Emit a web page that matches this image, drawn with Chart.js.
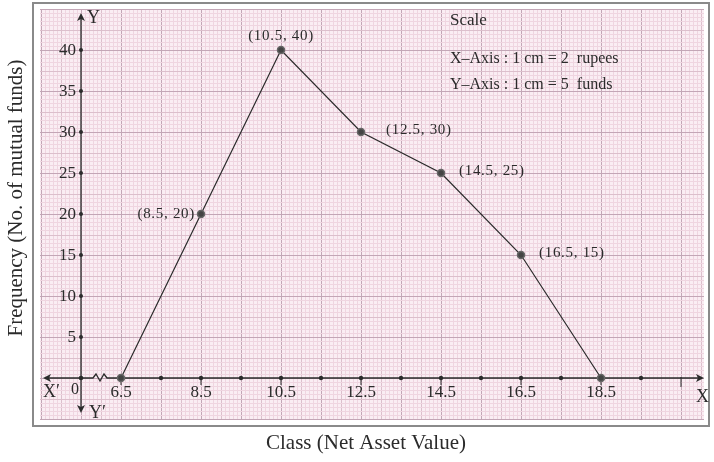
<!DOCTYPE html>
<html>
<head>
<meta charset="utf-8">
<script src="https://cdn.jsdelivr.net/npm/chart.js@4"></script>
<style>
  html, body { margin: 0; padding: 0; background: #fff; }
  #wrap { width: 714px; height: 462px; }
</style>
</head>
<body>
<div id="wrap"><canvas id="chart" width="714" height="462"></canvas></div>
<script>
// class marks and their frequencies (frequency polygon)
var classMarks = [6.5, 8.5, 10.5, 12.5, 14.5, 16.5, 18.5];
var frequencies = [0, 20, 40, 30, 25, 15, 0];
var xTickLabels = ['6.5', '8.5', '10.5', '12.5', '14.5', '16.5', '18.5'];
var xMinorDots = [7.5, 9.5, 11.5, 13.5, 15.5, 17.5, 19.5];
var yTickLabels = [5, 10, 15, 20, 25, 30, 35, 40];
var pointLabels = ['', '(8.5, 20)', '(10.5, 40)', '(12.5, 30)', '(14.5, 25)', '(16.5, 15)', ''];
var scaleNotes = ['Scale', 'X\u2013Axis : 1 cm = 2  rupees', 'Y\u2013Axis : 1 cm = 5  funds'];

var ORIGIN_X = 5.5; // where the broken x axis starts
var SERIF = '"Liberation Serif", "DejaVu Serif", serif';
var INK = '#2b2b2b';

function arrow(ctx, x, y, dir) {
    var s = 6;
    ctx.beginPath();
    if (dir === 'up') { ctx.moveTo(x, y); ctx.lineTo(x - 4, y + s + 2); ctx.lineTo(x, y + s); ctx.lineTo(x + 4, y + s + 2); }
    if (dir === 'down') { ctx.moveTo(x, y); ctx.lineTo(x - 4, y - s - 2); ctx.lineTo(x, y - s); ctx.lineTo(x + 4, y - s - 2); }
    if (dir === 'left') { ctx.moveTo(x, y); ctx.lineTo(x + s + 2, y - 4); ctx.lineTo(x + s, y); ctx.lineTo(x + s + 2, y + 4); }
    if (dir === 'right') { ctx.moveTo(x, y); ctx.lineTo(x - s - 2, y - 4); ctx.lineTo(x - s, y); ctx.lineTo(x - s - 2, y + 4); }
    ctx.closePath();
    ctx.fill();
}

var graphPaper = {
    id: 'graphPaper',
    beforeDatasetsDraw: function (chart) {
        var ctx = chart.ctx, a = chart.chartArea;
        var xs = chart.scales.x, ys = chart.scales.y;
        ctx.save();
        // outer frame
        ctx.strokeStyle = '#8a8a8a';
        ctx.lineWidth = 2;
        ctx.strokeRect(33, 3, 676, 423);
        ctx.fillStyle = '#faedf3';
        ctx.fillRect(a.left, a.top, a.right - a.left, a.bottom - a.top);

        // vertical lines: fine every 0.1, medium every 0.5 offset, strong on .5 values
        ctx.lineWidth = 1;
        for (var i = Math.ceil(xs.min * 10); i <= xs.max * 10; i++) {
            var v = i / 10;
            var px = Math.round(xs.getPixelForValue(v)) + 0.5;
            var k = ((i - 5) % 10 + 10) % 10;
            ctx.strokeStyle = k === 0 ? '#c3a6b6' : (k === 5 ? '#dcbfcc' : '#efd5e0');
            ctx.beginPath(); ctx.moveTo(px, a.top); ctx.lineTo(px, a.bottom); ctx.stroke();
        }
        // horizontal lines: fine every 0.5, medium every 2.5, strong every 5
        for (var j = Math.ceil(ys.min * 2); j <= ys.max * 2; j++) {
            var w = j / 2;
            var py = Math.round(ys.getPixelForValue(w)) + 0.5;
            var m = ((j % 10) + 10) % 10;
            ctx.strokeStyle = m === 0 ? '#c3a6b6' : (m === 5 ? '#dcbfcc' : '#efd5e0');
            ctx.beginPath(); ctx.moveTo(a.left, py); ctx.lineTo(a.right, py); ctx.stroke();
        }

        // axes
        var ox = xs.getPixelForValue(ORIGIN_X), oy = ys.getPixelForValue(0);
        ctx.strokeStyle = INK;
        ctx.fillStyle = INK;
        ctx.lineWidth = 1.3;
        ctx.beginPath();
        ctx.moveTo(ox, a.top + 6); ctx.lineTo(ox, a.bottom - 9);
        ctx.moveTo(a.left + 5, oy); ctx.lineTo(ox + 12, oy);
        // axis break (zig-zag)
        ctx.lineTo(ox + 15, oy - 4); ctx.lineTo(ox + 19, oy + 3); ctx.lineTo(ox + 23, oy - 4); ctx.lineTo(ox + 26, oy);
        ctx.lineTo(a.right - 2, oy);
        ctx.stroke();
        arrow(ctx, ox, a.top + 4, 'up');
        arrow(ctx, ox, a.bottom - 7, 'down');
        arrow(ctx, a.left + 3, oy, 'left');
        arrow(ctx, a.right, oy, 'right');

        // y ticks
        ctx.font = '17px ' + SERIF;
        ctx.textAlign = 'right';
        ctx.textBaseline = 'middle';
        yTickLabels.forEach(function (t) {
            var py = ys.getPixelForValue(t);
            ctx.beginPath(); ctx.arc(ox, py, 2, 0, Math.PI * 2); ctx.fill();
            ctx.fillText(String(t), ox - 5, py + 1);
        });
        ctx.beginPath(); ctx.arc(ox, oy, 2.3, 0, Math.PI * 2); ctx.fill();

        // x ticks
        ctx.textAlign = 'center';
        ctx.textBaseline = 'top';
        ctx.lineWidth = 1;
        classMarks.forEach(function (v, idx) {
            var px = xs.getPixelForValue(v);
            ctx.beginPath(); ctx.moveTo(px, oy); ctx.lineTo(px, oy + 7); ctx.stroke();
            ctx.beginPath(); ctx.arc(px, oy, 2.2, 0, Math.PI * 2); ctx.fill();
            ctx.fillText(xTickLabels[idx], px, oy + 6);
        });
        xMinorDots.forEach(function (v) {
            var px = xs.getPixelForValue(v);
            ctx.beginPath(); ctx.arc(px, oy, 2.2, 0, Math.PI * 2); ctx.fill();
        });
        var endTick = xs.getPixelForValue(20.5);
        ctx.beginPath(); ctx.moveTo(endTick, oy - 1); ctx.lineTo(endTick, oy + 9); ctx.stroke();

        // axis letters
        ctx.font = '18px ' + SERIF;
        ctx.textAlign = 'left';
        ctx.textBaseline = 'middle';
        ctx.fillText('Y', ox + 6, a.top + 9);
        ctx.fillText('Y\u2032', ox + 8, a.bottom - 7);
        ctx.fillText('X\u2032', a.left + 3, oy + 14);
        ctx.fillText('X', a.right - 8, oy + 19);
        ctx.font = '16px ' + SERIF;
        ctx.fillText('0', ox - 10, oy + 12);
        ctx.restore();
    },
    afterDatasetsDraw: function (chart) {
        var ctx = chart.ctx;
        var xs = chart.scales.x, ys = chart.scales.y;
        ctx.save();
        ctx.fillStyle = INK;
        ctx.font = '15px ' + SERIF;
        ctx.textBaseline = 'middle';
        ctx.letterSpacing = '0.7px';
        classMarks.forEach(function (v, i) {
            var lbl = pointLabels[i];
            if (!lbl) return;
            var px = xs.getPixelForValue(v), py = ys.getPixelForValue(frequencies[i]);
            if (i === 1) { ctx.textAlign = 'right'; ctx.fillText(lbl, px - 6, py); }
            else if (i === 2) { ctx.textAlign = 'center'; ctx.fillText(lbl, px, py - 14); }
            else if (i === 3) { ctx.textAlign = 'left'; ctx.fillText(lbl, px + 25, py - 2); }
            else { ctx.textAlign = 'left'; ctx.fillText(lbl, px + 18, py - 2); }
        });
        // scale note
        ctx.letterSpacing = '0px';
        ctx.textAlign = 'left';
        ctx.font = '17px ' + SERIF;
        ctx.fillText(scaleNotes[0], 450, 21);
        ctx.font = '16px ' + SERIF;
        ctx.fillText(scaleNotes[1], 450, 59);
        ctx.fillText(scaleNotes[2], 450, 85);

        // axis titles
        ctx.font = '21px ' + SERIF;
        ctx.textAlign = 'center';
        ctx.fillText('Class (Net Asset Value)', 366, 443);
        ctx.translate(16, 198);
        ctx.rotate(-Math.PI / 2);
        ctx.fillText('Frequency (No. of mutual funds)', 0, 0);
        ctx.restore();
    }
};

new Chart(document.getElementById('chart'), {
    type: 'scatter',
    data: {
        datasets: [{
            data: classMarks.map(function (x, i) { return { x: x, y: frequencies[i] }; }),
            showLine: true,
            borderColor: INK,
            borderWidth: 1.2,
            pointRadius: 3.5,
            pointBorderWidth: 1.5,
            pointBackgroundColor: '#444',
            pointBorderColor: '#666',
            clip: false
        }]
    },
    options: {
        responsive: false,
        animation: false,
        devicePixelRatio: 1,
        layout: { padding: { left: 40, top: 9, right: 10, bottom: 42 } },
        plugins: { legend: { display: false }, tooltip: { enabled: false } },
        scales: {
            x: { type: 'linear', display: false, min: 4.475, max: 21.075 },
            y: { type: 'linear', display: false, min: -5.12, max: 45 }
        }
    },
    plugins: [graphPaper]
});
</script>
</body>
</html>
